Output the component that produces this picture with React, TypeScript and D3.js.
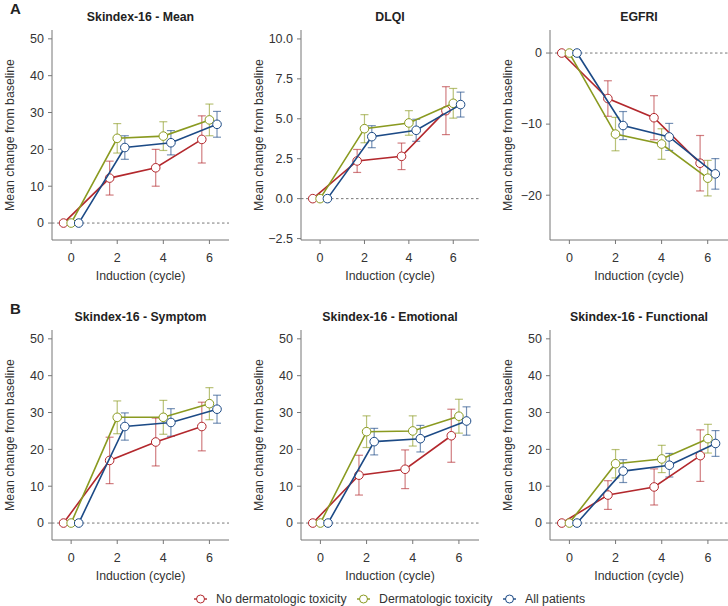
import React from 'react';
import * as d3 from 'd3';

// cycles on the x axis, series are nudged left/right so they don't overlap
const cycles = [0, 2, 4, 6];
const seriesNames = ['No dermatologic toxicity', 'Dermatologic toxicity', 'All patients'];
const seriesColors = ['#b3282d', '#8a9a20', '#1c4a86'];
const xOffsets = [-0.33, 0, 0.33];

// Skindex-16 - Mean
const meanValues = [[0, 12.2, 15.0, 22.7], [0, 23.0, 23.6, 28.0], [0, 20.5, 21.8, 26.8]];
const meanErrors = [[0, 4.6, 5.0, 6.4], [0, 4.0, 3.9, 4.3], [0, 3.2, 3.3, 3.5]];
// DLQI
const dlqiValues = [[0, 2.36, 2.65, 5.51], [0, 4.38, 4.74, 5.97], [0, 3.88, 4.28, 5.89]];
const dlqiErrors = [[0, 0.72, 0.83, 1.5], [0, 0.88, 0.77, 0.93], [0, 0.69, 0.69, 0.78]];
// EGFRI
const egfriValues = [[0, -6.4, -9.1, -15.5], [0, -11.4, -12.8, -17.6], [0, -10.2, -11.8, -17.0]];
const egfriErrors = [[0, 2.5, 3.1, 3.9], [0, 2.35, 2.15, 2.5], [0, 1.97, 1.9, 2.15]];
// Skindex-16 - Symptom
const symptomValues = [[0, 17.0, 22.0, 26.2], [0, 28.7, 28.7, 32.4], [0, 26.2, 27.3, 30.9]];
const symptomErrors = [[0, 6.3, 6.5, 6.6], [0, 4.45, 4.6, 4.35], [0, 3.7, 3.75, 3.8]];
// Skindex-16 - Emotional
const emotionalValues = [[0, 13.0, 14.6, 23.7], [0, 24.8, 25.0, 29.0], [0, 22.1, 22.9, 27.7]];
const emotionalErrors = [[0, 5.4, 5.25, 7.2], [0, 4.3, 4.1, 4.6], [0, 3.6, 3.6, 3.85]];
// Skindex-16 - Functional
const functionalValues = [[0, 7.6, 9.8, 18.3], [0, 16.1, 17.4, 22.9], [0, 14.1, 15.7, 21.6]];
const functionalErrors = [[0, 3.9, 4.9, 7.0], [0, 3.85, 3.7, 3.9], [0, 3.1, 3.2, 3.5]];

const skindexTicks = [0, 10, 20, 30, 40, 50];
const dlqiTicks = [-2.5, 0, 2.5, 5, 7.5, 10];
const egfriTicks = [-20, -10, 0];

const FONT = '"Liberation Sans", Arial, Helvetica, sans-serif';
const AXIS_COLOR = '#777';
const TEXT_COLOR = '#333';
const RADIUS = 4.3;
const FS = 12.3;

const panels = [
  { title: 'Skindex-16 - Mean', values: meanValues, errors: meanErrors, ticks: skindexTicks, fmt: d3.format('d'),
    x0: 52, x1: 229, top: 30, bottom: 240, xDomain: [-0.83, 6.85], yDomain: [-4.6, 52.4] },
  { title: 'DLQI', values: dlqiValues, errors: dlqiErrors, ticks: dlqiTicks, fmt: d3.format('.1f'),
    x0: 301, x1: 479, top: 30, bottom: 240, xDomain: [-0.86, 7.16], yDomain: [-2.59, 10.56] },
  { title: 'EGFRI', values: egfriValues, errors: egfriErrors, ticks: egfriTicks, fmt: d3.format('d'),
    x0: 550, x1: 728, top: 30, bottom: 240, xDomain: [-0.84, 6.88], yDomain: [-26.3, 3.24] },
  { title: 'Skindex-16 - Symptom', values: symptomValues, errors: symptomErrors, ticks: skindexTicks, fmt: d3.format('d'),
    x0: 52, x1: 229, top: 330, bottom: 540, xDomain: [-0.83, 6.85], yDomain: [-4.6, 52.4] },
  { title: 'Skindex-16 - Emotional', values: emotionalValues, errors: emotionalErrors, ticks: skindexTicks, fmt: d3.format('d'),
    x0: 301, x1: 479, top: 330, bottom: 540, xDomain: [-0.84, 6.87], yDomain: [-4.6, 52.4] },
  { title: 'Skindex-16 - Functional', values: functionalValues, errors: functionalErrors, ticks: skindexTicks, fmt: d3.format('d'),
    x0: 550, x1: 728, top: 330, bottom: 540, xDomain: [-0.84, 6.87], yDomain: [-4.6, 52.4] },
];

const fmtMinus = (s: string) => s.replace('-', '\u2212');

function Panel({ p }: { p: any }) {
  const x = d3.scaleLinear().domain(p.xDomain).range([p.x0, p.x1]);
  const y = d3.scaleLinear().domain(p.yDomain).range([p.bottom, p.top]);
  const cx = (p.x0 + p.x1) / 2;

  return (
    <g>
      <text x={cx} y={p.top - 8.6} textAnchor="middle" fontWeight="bold" fontSize={FS} fill="#222">{p.title}</text>
      {/* zero reference */}
      <line x1={p.x0} x2={p.x1} y1={y(0)} y2={y(0)} stroke="#555" strokeWidth={0.8} strokeDasharray="2.5,2.5" />
      {/* axes */}
      <line x1={p.x0} x2={p.x0} y1={p.top} y2={p.bottom} stroke={AXIS_COLOR} strokeWidth={1} />
      <line x1={p.x0} x2={p.x1} y1={p.bottom} y2={p.bottom} stroke={AXIS_COLOR} strokeWidth={1} />
      {p.ticks.map((t: number) => (
        <g key={t}>
          <line x1={p.x0 - 4} x2={p.x0} y1={y(t)} y2={y(t)} stroke={AXIS_COLOR} />
          <text x={p.x0 - 8} y={y(t)} dy="0.35em" textAnchor="end" fontSize={12.5} fill={TEXT_COLOR}>{fmtMinus(p.fmt(t))}</text>
        </g>
      ))}
      {cycles.map(c => (
        <g key={c}>
          <line x1={x(c)} x2={x(c)} y1={p.bottom} y2={p.bottom + 4} stroke={AXIS_COLOR} />
          <text x={x(c)} y={p.bottom + 21.5} textAnchor="middle" fontSize={12.5} fill={TEXT_COLOR}>{c}</text>
        </g>
      ))}
      <text x={cx} y={p.bottom + 39.5} textAnchor="middle" fontSize={FS} fill={TEXT_COLOR}>Induction (cycle)</text>
      <text transform={`translate(${p.x0 - 42},${(p.top + p.bottom) / 2}) rotate(-90)`} dy="0.35em" textAnchor="middle" fontSize={FS} fill={TEXT_COLOR}>
        Mean change from baseline
      </text>
      {/* error bars */}
      {p.values.map((vals: number[], s: number) => (
        <g key={'e' + s} stroke={seriesColors[s]} strokeOpacity={0.6} strokeWidth={1.2}>
          {vals.map((v, i) => {
            const e = p.errors[s][i];
            if (!e) return null;
            const xx = x(cycles[i] + xOffsets[s]);
            return (
              <g key={i}>
                <line x1={xx} x2={xx} y1={y(v + e)} y2={y(v - e)} />
                <line x1={xx - 4} x2={xx + 4} y1={y(v + e)} y2={y(v + e)} />
                <line x1={xx - 4} x2={xx + 4} y1={y(v - e)} y2={y(v - e)} />
              </g>
            );
          })}
        </g>
      ))}
      {/* lines + points */}
      {p.values.map((vals: number[], s: number) => {
        const lg = d3.line<number>().x((d, i) => x(cycles[i] + xOffsets[s])).y(d => y(d));
        return (
          <g key={'l' + s}>
            <path d={lg(vals) || ''} fill="none" stroke={seriesColors[s]} strokeWidth={1.6} />
            {vals.map((v, i) => (
              <circle key={i} cx={x(cycles[i] + xOffsets[s])} cy={y(v)} r={RADIUS} fill="#fff" stroke={seriesColors[s]} strokeWidth={1} />
            ))}
          </g>
        );
      })}
    </g>
  );
}

const legendX = [194, 357, 503];

export default function App() {
  return (
    <svg width={728} height={606} style={{ position: 'absolute', left: 0, top: 0, background: '#fff' }} fontFamily={FONT}>
      <text x={10} y={14} fontWeight="bold" fontSize={15} fill="#222">A</text>
      <text x={10} y={314} fontWeight="bold" fontSize={15} fill="#222">B</text>
      {panels.map((p, i) => <Panel key={i} p={p} />)}
      {seriesNames.map((name, s) => (
        <g key={name} transform={`translate(${legendX[s]},599)`}>
          <line x1={0} x2={13} y1={0} y2={0} stroke={seriesColors[s]} strokeWidth={1.4} />
          <circle cx={6.5} cy={0} r={4} fill="#fff" stroke={seriesColors[s]} strokeWidth={1} />
          <text x={22} y={0} dy="0.35em" fontSize={FS} fill={TEXT_COLOR}>{name}</text>
        </g>
      ))}
    </svg>
  );
}
